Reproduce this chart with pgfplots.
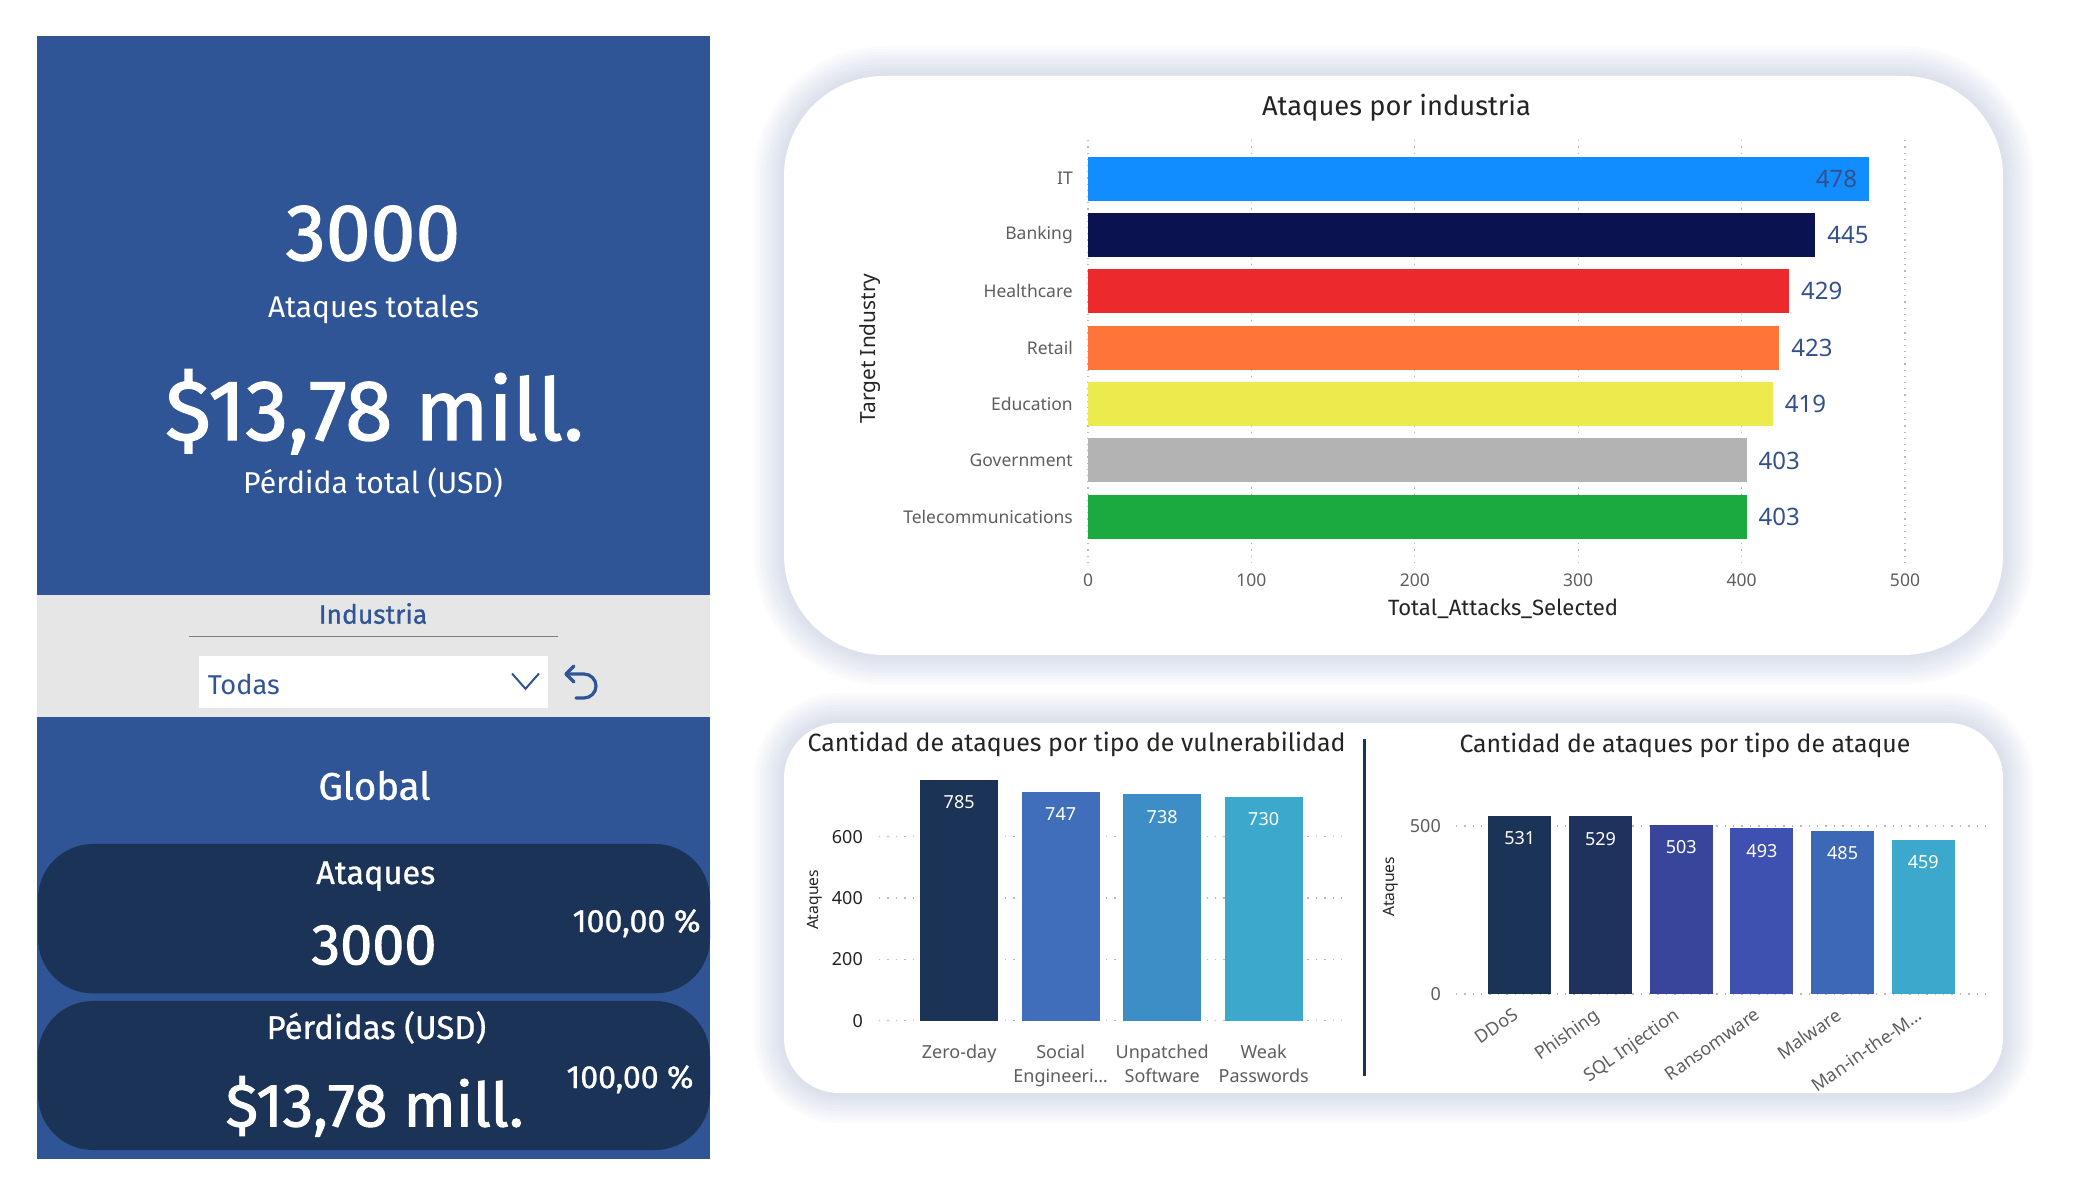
\documentclass[border=0pt]{standalone}
\usepackage{fontspec}
\setmainfont{Noto Sans}
\newfontfamily\din{Fira Sans}
\newfontfamily\dinsb[FakeBold=1.6]{Fira Sans}
\newfontfamily\dinm[FakeBold=0.9]{Fira Sans}
\usepackage{pgfplots}
\pgfplotsset{compat=1.18}
\definecolor{pbblue}{HTML}{2F5597}
\definecolor{navy}{HTML}{1C3358}
\definecolor{panelgray}{HTML}{E6E6E6}
\definecolor{labgray}{HTML}{605E5C}
\definecolor{titlec}{HTML}{252423}
\definecolor{valblue}{HTML}{34508C}
\definecolor{gridc}{HTML}{B8B8B8}
\definecolor{shc}{HTML}{A8B6D6}
\definecolor{cIT}{HTML}{118DFF}
\definecolor{cBank}{HTML}{0B1250}
\definecolor{cHealth}{HTML}{EC2A2B}
\definecolor{cRetail}{HTML}{FE7439}
\definecolor{cEdu}{HTML}{ECEB4E}
\definecolor{cGov}{HTML}{B3B3B3}
\definecolor{cTel}{HTML}{1BAA40}
\definecolor{vA}{HTML}{1C3358}
\definecolor{vB}{HTML}{406EBA}
\definecolor{vC}{HTML}{3D8EC6}
\definecolor{vD}{HTML}{3BA8CC}
\definecolor{aA}{HTML}{1C3358}
\definecolor{aB}{HTML}{1F325E}
\definecolor{aC}{HTML}{37469A}
\definecolor{aD}{HTML}{3F51B0}
\definecolor{aE}{HTML}{3D68B8}
\definecolor{aF}{HTML}{3BA8CC}
\newcommand\fs[1]{\fontsize{#1}{#1}\selectfont}
\newcommand\fss[2]{\fontsize{#1}{#2}\selectfont}
\newlength\tmpw
% text set at the font size that gives it width #1 (in pt)
\newcommand\fitf[3]{%
  \settowidth\tmpw{#2\fontsize{10}{12}\selectfont #3}%
  \pgfmathsetmacro\fsz{10*#1/\tmpw}%
  {#2\fontsize{\fsz}{\fsz}\selectfont #3}}
\begin{document}
\begin{tikzpicture}[x=1pt,y=1pt]
% page
\fill[white] (0,0) rectangle (2075,1200);
% card shadows
\foreach \d in {1,...,10}{
  \pgfmathsetmacro\ee{3*\d}
  \pgfmathsetmacro\rr{100+\ee}
  \pgfmathsetmacro\rs{55+\ee}
  \fill[shc, opacity=0.045, rounded corners=\rr pt] (784-\ee,545-\ee) rectangle (2003+\ee,1124+\ee);
  \fill[shc, opacity=0.045, rounded corners=\rs pt] (784-\ee,107-\ee) rectangle (2003+\ee,477+\ee);
}
\fill[white, rounded corners=100pt] (784,545) rectangle (2003,1124);
\fill[white, rounded corners=55pt] (784,107) rectangle (2003,477);

% left panel
\fill[pbblue] (37,604.6) rectangle (710,1164);
\fill[panelgray] (37,483) rectangle (710,604.6);
\fill[pbblue] (37,40.6) rectangle (710,483);
\fill[navy, rounded corners=55pt] (38,206.6) rectangle (710,356);
\fill[navy, rounded corners=55pt] (38,50) rectangle (710,199);

\node[anchor=base, inner sep=0pt, text=white] at (373,939.8) {\fitf{174.6}{\dinsb}{3000}};
\node[anchor=base, inner sep=0pt, text=white] at (373.6,882.6) {\fitf{211}{\din}{Ataques totales}};
\node[anchor=base, inner sep=0pt, text=white] at (374.6,760) {\fitf{418.6}{\dinsb}{\$13,78 mill.}};
\node[anchor=base, inner sep=0pt, text=white] at (373,706.4) {\fitf{259.6}{\din}{Pérdida total (USD)}};

\node[anchor=base, inner sep=0pt, text=pbblue] at (373,576.3) {\fitf{108.5}{\dinm}{Industria}};
\draw[gray, line width=1.5pt] (188.8,563.3) -- (557.8,563.3);
\fill[white] (198.7,492) rectangle (548.4,544);
\node[anchor=base west, inner sep=0pt, text=pbblue] at (207.6,505.1) {\fitf{72}{\din}{Todas}};
\draw[pbblue, line width=2pt] (512,526.5) -- (525.5,511.2) -- (539,526.5);
\draw[pbblue, line width=3.2pt, line cap=round, line join=round] (574,534) -- (566,526) -- (574,518);
\draw[pbblue, line width=3.2pt, line cap=round] (566,526) -- (584,526) arc[start angle=90, end angle=-90, radius=12pt] -- (576,502);

\node[anchor=base, inner sep=0pt, text=white] at (374.5,400.3) {\fitf{112}{\dinm}{Global}};
\node[anchor=base, inner sep=0pt, text=white] at (375.8,316) {\fitf{119}{\dinm}{Ataques}};
\node[anchor=base, inner sep=0pt, text=white] at (374,235.7) {\fitf{125}{\dinsb}{3000}};
\node[anchor=base, inner sep=0pt, text=white] at (636.6,268) {\fitf{128}{\dinm}{100,00 \%}};
\node[anchor=base, inner sep=0pt, text=white] at (376.4,161) {\fitf{219.5}{\dinm}{Pérdidas (USD)}};
\node[anchor=base, inner sep=0pt, text=white] at (374.7,73.5) {\fitf{298}{\dinsb}{\$13,78 mill.}};
\node[anchor=base, inner sep=0pt, text=white] at (630,112) {\fitf{127}{\dinm}{100,00 \%}};

% ---------- top chart ----------
\node[anchor=base, inner sep=0pt, text=titlec] at (1396.5,1084) {\fitf{269}{\din}{Ataques por industria}};
\node[anchor=base, inner sep=0pt, text=titlec] at (1503,584) {\fitf{230}{\din}{Total\_Attacks\_Selected}};
\node[rotate=90, inner sep=0pt, text=titlec] at (870,851.4) {\fitf{150}{}{Target Industry}};

\begin{axis}[
  at={(1088pt,637pt)}, anchor=south west, scale only axis,
  width=817pt, height=423pt,
  xmin=0, xmax=500, ymin=-0.82, ymax=6.687, enlargelimits=false,
  xtick={0,100,200,300,400,500}, ytick={0,1,2,3,4,5,6},
  yticklabels={Telecommunications,Government,Education,Retail,Healthcare,Banking,IT},
  xmajorgrids, grid style={gridc, line width=1.2pt, dash pattern=on 1.2pt off 5pt},
  axis line style={draw=none}, major tick length=0pt,
  /pgf/number format/assume math mode=true,
  tick label style={font=\fs{17.5}, text=labgray, inner sep=0pt},
  xticklabel style={anchor=north, yshift=-10.4pt},
  yticklabel style={anchor=east, xshift=-15pt},
  point meta=x,
  nodes near coords,
  clip=false,
]
\addplot[xbar, bar width=44pt, bar shift=0pt, fill=cIT, draw=none,
  every node near coord/.append style={font=\fs{24}, text=valblue, inner sep=0pt, anchor=west, xshift=-53.3pt}] coordinates {(478,6)};
\addplot[xbar, bar width=44pt, bar shift=0pt, fill=cBank, draw=none,
  every node near coord/.append style={font=\fs{24}, text=valblue, inner sep=0pt, anchor=west, xshift=12pt}] coordinates {(445,5)};
\addplot[xbar, bar width=44pt, bar shift=0pt, fill=cHealth, draw=none,
  every node near coord/.append style={font=\fs{24}, text=valblue, inner sep=0pt, anchor=west, xshift=12pt}] coordinates {(429,4)};
\addplot[xbar, bar width=44pt, bar shift=0pt, fill=cRetail, draw=none,
  every node near coord/.append style={font=\fs{24}, text=valblue, inner sep=0pt, anchor=west, xshift=12pt}] coordinates {(423,3)};
\addplot[xbar, bar width=44pt, bar shift=0pt, fill=cEdu, draw=none,
  every node near coord/.append style={font=\fs{24}, text=valblue, inner sep=0pt, anchor=west, xshift=12pt}] coordinates {(419,2)};
\addplot[xbar, bar width=44pt, bar shift=0pt, fill=cGov, draw=none,
  every node near coord/.append style={font=\fs{24}, text=valblue, inner sep=0pt, anchor=west, xshift=12pt}] coordinates {(403,1)};
\addplot[xbar, bar width=44pt, bar shift=0pt, fill=cTel, draw=none,
  every node near coord/.append style={font=\fs{24}, text=valblue, inner sep=0pt, anchor=west, xshift=12pt}] coordinates {(403,0)};
\end{axis}

% ---------- bottom left chart ----------
\node[anchor=base, inner sep=0pt, text=titlec] at (1076.6,448) {\fitf{538}{\din}{Cantidad de ataques por tipo de vulnerabilidad}};
\node[rotate=90, inner sep=0pt, text=titlec] at (815,300) {\fitf{60}{}{Ataques}};
\draw[navy, line width=3pt] (1364.4,461) -- (1364.4,124);

\begin{axis}[
  at={(879pt,179.3pt)}, anchor=south west, scale only axis,
  width=462.8pt, height=260.7pt,
  xmin=-0.79, xmax=3.77, ymin=0, ymax=850, enlargelimits=false,
  xtick={0,1,2,3},
  xticklabels={Zero-day,{Social\\Engineeri…},{Unpatched\\Software},{Weak\\Passwords}},
  ytick={0,200,400,600},
  ymajorgrids, grid style={gridc, line width=1.4pt, dash pattern=on 1.4pt off 7pt},
  axis line style={draw=none}, major tick length=0pt,
  /pgf/number format/assume math mode=true,
  yticklabel style={font=\fs{18}, text=titlec, inner sep=0pt, anchor=east, xshift=-16pt},
  xticklabel style={font=\fss{18}{24.3}, text=labgray, align=center, inner sep=0pt, anchor=north, yshift=-24pt},
  point meta=y,
  nodes near coords,
  clip=false,
]
\addplot[ybar, bar width=77.7pt, bar shift=0pt, fill=vA, draw=none,
  every node near coord/.append style={font=\fs{18}, text=white, inner sep=0pt, anchor=north, yshift=-15.7pt}] coordinates {(0,785)};
\addplot[ybar, bar width=77.7pt, bar shift=0pt, fill=vB, draw=none,
  every node near coord/.append style={font=\fs{18}, text=white, inner sep=0pt, anchor=north, yshift=-15.7pt}] coordinates {(1,747)};
\addplot[ybar, bar width=77.7pt, bar shift=0pt, fill=vC, draw=none,
  every node near coord/.append style={font=\fs{18}, text=white, inner sep=0pt, anchor=north, yshift=-15.7pt}] coordinates {(2,738)};
\addplot[ybar, bar width=77.7pt, bar shift=0pt, fill=vD, draw=none,
  every node near coord/.append style={font=\fs{18}, text=white, inner sep=0pt, anchor=north, yshift=-15.7pt}] coordinates {(3,730)};
\end{axis}

% ---------- bottom right chart ----------
\node[anchor=base, inner sep=0pt, text=titlec] at (1685,447.5) {\fitf{451}{\din}{Cantidad de ataques por tipo de ataque}};
\node[rotate=90, inner sep=0pt, text=titlec] at (1391,313.3) {\fitf{60}{}{Ataques}};

\begin{axis}[
  at={(1455.7pt,206pt)}, anchor=south west, scale only axis,
  width=533pt, height=201.6pt,
  xmin=-0.794, xmax=5.81, ymin=0, ymax=600, enlargelimits=false,
  xtick={0,1,2,3,4,5},
  xticklabels={DDoS,Phishing,SQL Injection,Ransomware,Malware,Man-in-the-M…},
  ytick={0,500},
  ymajorgrids, grid style={gridc, line width=1.4pt, dash pattern=on 1.4pt off 7pt},
  axis line style={draw=none}, major tick length=0pt,
  /pgf/number format/assume math mode=true,
  yticklabel style={font=\fs{18}, text=labgray, inner sep=0pt, anchor=east, xshift=-14.7pt},
  xticklabel style={font=\fs{18}, text=labgray, inner sep=0pt, anchor=north east, xshift=-8pt, yshift=-13pt, rotate=35},
  point meta=y,
  nodes near coords,
  clip=false,
]
\addplot[ybar, bar width=63pt, bar shift=0pt, fill=aA, draw=none,
  every node near coord/.append style={font=\fs{18}, text=white, inner sep=0pt, anchor=north, yshift=-15.6pt}] coordinates {(0,531)};
\addplot[ybar, bar width=63pt, bar shift=0pt, fill=aB, draw=none,
  every node near coord/.append style={font=\fs{18}, text=white, inner sep=0pt, anchor=north, yshift=-15.6pt}] coordinates {(1,529)};
\addplot[ybar, bar width=63pt, bar shift=0pt, fill=aC, draw=none,
  every node near coord/.append style={font=\fs{18}, text=white, inner sep=0pt, anchor=north, yshift=-15.6pt}] coordinates {(2,503)};
\addplot[ybar, bar width=63pt, bar shift=0pt, fill=aD, draw=none,
  every node near coord/.append style={font=\fs{18}, text=white, inner sep=0pt, anchor=north, yshift=-15.6pt}] coordinates {(3,493)};
\addplot[ybar, bar width=63pt, bar shift=0pt, fill=aE, draw=none,
  every node near coord/.append style={font=\fs{18}, text=white, inner sep=0pt, anchor=north, yshift=-15.6pt}] coordinates {(4,485)};
\addplot[ybar, bar width=63pt, bar shift=0pt, fill=aF, draw=none,
  every node near coord/.append style={font=\fs{18}, text=white, inner sep=0pt, anchor=north, yshift=-15.6pt}] coordinates {(5,459)};
\end{axis}
\end{tikzpicture}
\end{document}
